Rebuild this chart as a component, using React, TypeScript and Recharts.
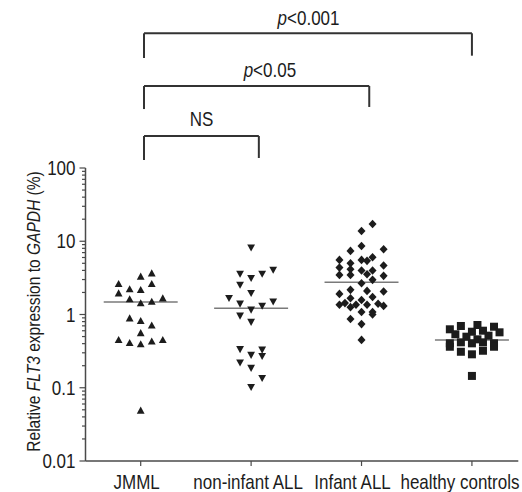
import React from 'react';
import { ScatterChart, Scatter, XAxis, YAxis, ReferenceLine, ReferenceDot } from 'recharts';

// ---------- data ----------
const CATEGORIES = ['JMML', 'non-infant ALL', 'Infant ALL', 'healthy controls'];

const JMML_VALUES = [3.66, 3.3, 2.62, 2.62, 2.22, 2.17, 1.95, 1.62, 1.43, 1.5, 1.67, 0.89, 0.82, 0.71, 0.56, 0.45, 0.41, 0.395, 0.43, 0.45, 0.049];
const JMML_SLOTS = [2, 0, -4, 2, -2, 0, -4, -2, 0, 2, 4, -2, 0, 2, 0, -4, -2, 0, 2, 4, 0];

const NONINFANT_VALUES = [8.18, 4.06, 3.58, 3.58, 3.13, 2.54, 1.96, 1.67, 1.4, 1.5, 1.31, 1.16, 0.96, 0.79, 0.335, 0.33, 0.28, 0.27, 0.22, 0.186, 0.135, 0.102];
const NONINFANT_SLOTS = [0, 4, 2, -2, 0, -2, 0, -4, -2, 4, 2, 0, -2, 0, -2, 2, 0, 2, -2, 0, 2, 0];

const INFANT_VALUES = [17.2, 13.8, 8.6, 7.78, 7.38, 6.05, 5.56, 5.56, 5.4, 5.0, 4.66, 4.37, 4.15, 3.98, 3.98, 3.55, 3.47, 3.47, 3.37, 2.97, 2.67, 2.17, 2.1, 2.06, 1.91, 1.73, 1.67, 1.58, 1.36, 1.43, 1.36, 1.26, 1.36, 1.4, 1.31, 1.08, 1.08, 1.0, 0.87, 0.74, 0.45];
const INFANT_SLOTS = [2, 0, 0, 4, -2, 2, -4, 0, 1, -2, 4, -4, -2, 0, 2, 1, -4, -2, 4, 2, 0, -2, 1, 4, -4, 2, -2, 0, -4, -3, -1, -2, 1, 3, 4, 0, 2, 2, -2, 0, 0];

const HEALTHY_VALUES = [0.628, 0.697, 0.719, 0.681, 0.571, 0.537, 0.582, 0.601, 0.514, 0.498, 0.458, 0.404, 0.417, 0.404, 0.417, 0.404, 0.363, 0.363, 0.31, 0.286, 0.32, 0.145];
const HEALTHY_SLOTS = [-4, -2, 1, 4, 5, -3, 0, 2, 3, -1, 1, -4, -2, 0, 2, 4, -4, 4, -2, 0, 2, 0];

const MEDIANS = [1.48, 1.22, 2.76, 0.449];

const Y_MAJOR_TICKS = [0.01, 0.1, 1, 10, 100];
const Y_TICK_LABELS = ['0.01', '0.1', '1', '10', '100'];
const MINOR_MULTIPLIERS = [2, 3, 4, 5, 6, 7, 8, 9];

const COMPARISON_LABELS = ['NS', '<0.05', '<0.001'];
const COMPARISON_ITALIC_P = [false, true, true];

// ---------- layout / style ----------
const FONT = "'Liberation Sans', Arial, sans-serif";
const NARROW = 0.85; // condensed look of the reference typeface
const LABEL_SIZE = 20;
const TITLE_SIZE = 18.3;
const INK = '#1c1c1c';
const AXIS = '#4a4a4a';
const SLOT = 0.05;
const MEDIAN_HALF = 0.335;
const X_LABEL_NUDGE = [-4, -3, -9, -12];

// bracket geometry in data units (x in category units, y on the log scale)
const BRACKETS = [
  { x1: 0.03, x2: 1.07, top: 273.5, footL: 128.5, footR: 137, labelX: 0.55, labelY: 378 },
  { x1: 0.03, x2: 2.07, top: 1316, footL: 638, footR: 681, labelX: 1.17, labelY: 1763 },
  { x1: 0.03, x2: 3.0, top: 6900, footL: 3175, footR: 3415, labelX: 1.52, labelY: 8960 },
];

const makePoints = (cat: number, values: number[], slots: number[]) =>
  values.map((v, i) => ({ x: cat + slots[i] * SLOT, y: v }));

const TriUp = (p: any) => (
  <polygon points={`${p.cx},${p.cy - 3.9} ${p.cx + 3.9},${p.cy + 3.2} ${p.cx - 3.9},${p.cy + 3.2}`} fill={INK} />
);
const TriDown = (p: any) => (
  <polygon points={`${p.cx},${p.cy + 3.9} ${p.cx + 3.9},${p.cy - 3.2} ${p.cx - 3.9},${p.cy - 3.2}`} fill={INK} />
);
const Diamond = (p: any) => (
  <polygon points={`${p.cx},${p.cy - 4.3} ${p.cx + 4},${p.cy} ${p.cx},${p.cy + 4.3} ${p.cx - 4},${p.cy}`} fill={INK} />
);
const Square = (p: any) => <rect x={p.cx - 4} y={p.cy - 4} width={8} height={8} fill={INK} />;

const NText = ({ x, y, rotate = 0, anchor = 'middle', size = LABEL_SIZE, dy, children }: any) => (
  <text
    transform={`translate(${x},${y}) rotate(${rotate}) scale(${NARROW},1)`}
    x={0}
    y={0}
    dy={dy}
    textAnchor={anchor}
    fontFamily={FONT}
    fontSize={size}
    fill={INK}
  >
    {children}
  </text>
);

const YTick = (props: any) => {
  const { x, y, payload } = props;
  const idx = Y_MAJOR_TICKS.indexOf(payload.value);
  const major = idx >= 0;
  return (
    <g>
      <line x1={x - (major ? 6 : 3.5)} x2={x} y1={y} y2={y} stroke={AXIS} strokeWidth={1.2} />
      {major && (
        <NText x={x - 10} y={y} dy="0.36em" anchor="end">
          {Y_TICK_LABELS[idx]}
        </NText>
      )}
    </g>
  );
};

const XTick = (props: any) => {
  const { x, y, payload } = props;
  const i = Math.round(payload.value);
  return (
    <NText x={x + X_LABEL_NUDGE[i]} y={y + 21}>
      {CATEGORIES[i]}
    </NText>
  );
};

const YTitle = (props: any) => {
  const vb = props.viewBox || { x: 25.5, y: 168, width: 60, height: 293 };
  const cx = vb.x + 14;
  const cy = vb.y + vb.height / 2 - 3;
  return (
    <NText x={cx} y={cy} rotate={-90} size={TITLE_SIZE}>
      <tspan>Relative </tspan>
      <tspan fontStyle="italic">FLT3</tspan>
      <tspan> expression to </tspan>
      <tspan fontStyle="italic">GAPDH</tspan>
      <tspan> (%)</tspan>
    </NText>
  );
};

const yTicks: number[] = [];
Y_MAJOR_TICKS.forEach((m, k) => {
  yTicks.push(m);
  if (k < Y_MAJOR_TICKS.length - 1) MINOR_MULTIPLIERS.forEach((f) => yTicks.push(+(m * f).toPrecision(3)));
});

export default function App() {
  const series = [
    { data: makePoints(0, JMML_VALUES, JMML_SLOTS), shape: TriUp },
    { data: makePoints(1, NONINFANT_VALUES, NONINFANT_SLOTS), shape: TriDown },
    { data: makePoints(2, INFANT_VALUES, INFANT_SLOTS), shape: Diamond },
    { data: makePoints(3, HEALTHY_VALUES, HEALTHY_SLOTS), shape: Square },
  ];
  return (
    <div style={{ position: 'absolute', left: 0, top: 0, background: '#fff' }}>
      <ScatterChart width={522} height={492} margin={{ top: 168, right: 3.7, bottom: 0, left: 25.5 }}>
        <XAxis
          type="number"
          dataKey="x"
          domain={[-0.5, 3.42]}
          ticks={[0, 1, 2, 3]}
          interval={0}
          allowDataOverflow
          height={31}
          tickSize={5}
          tickMargin={2}
          axisLine={{ stroke: AXIS, strokeWidth: 1.5 }}
          tickLine={{ stroke: AXIS, strokeWidth: 1.2 }}
          tick={<XTick />}
        />
        <YAxis
          type="number"
          dataKey="y"
          scale="log"
          domain={[0.01, 100]}
          ticks={yTicks}
          interval={0}
          allowDataOverflow
          width={60}
          tickSize={0}
          tickMargin={0}
          tickLine={false}
          axisLine={{ stroke: AXIS, strokeWidth: 1.5 }}
          tick={<YTick />}
          label={<YTitle />}
        />
        {series.map((s, i) => (
          <Scatter key={i} data={s.data} shape={s.shape} isAnimationActive={false} />
        ))}
        {MEDIANS.map((m, i) => (
          <ReferenceLine
            key={`m${i}`}
            segment={[{ x: i - MEDIAN_HALF, y: m }, { x: i + MEDIAN_HALF, y: m }]}
            stroke="#7a7a7a"
            strokeWidth={1.5}
            ifOverflow="visible"
          />
        ))}
        {BRACKETS.map((b, i) => (
          <React.Fragment key={`b${i}`}>
            <ReferenceLine segment={[{ x: b.x1, y: b.top }, { x: b.x2, y: b.top }]} stroke="#333" strokeWidth={2} ifOverflow="visible" />
            <ReferenceLine segment={[{ x: b.x1, y: b.top }, { x: b.x1, y: b.footL }]} stroke="#333" strokeWidth={2} ifOverflow="visible" />
            <ReferenceLine segment={[{ x: b.x2, y: b.top }, { x: b.x2, y: b.footR }]} stroke="#333" strokeWidth={2} ifOverflow="visible" />
            <ReferenceDot
              x={b.labelX}
              y={b.labelY}
              r={0}
              ifOverflow="visible"
              shape={(p: any) => (
                <NText x={p.cx} y={p.cy}>
                  {COMPARISON_ITALIC_P[i] && <tspan fontStyle="italic">p</tspan>}
                  <tspan>{COMPARISON_LABELS[i]}</tspan>
                </NText>
              )}
            />
          </React.Fragment>
        ))}
      </ScatterChart>
    </div>
  );
}
